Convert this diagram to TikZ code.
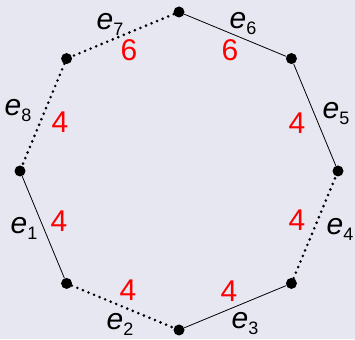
\documentclass[tikz,border=0pt]{standalone}
\usepackage{fontspec}
\setmainfont{Liberation Sans}
\usepackage{xcolor}
\usetikzlibrary{positioning}
\definecolor{bgcol}{RGB}{231,231,242}
\newcommand{\elab}[1]{{\itshape e}\raisebox{-6pt}{\fontsize{18}{18}\selectfont #1}}

\begin{document}
\begin{tikzpicture}[
    x=1pt, y=1pt,
    vert/.style={circle, fill=black, minimum size=11pt, inner sep=0pt},
    full/.style={draw=black, line width=0.8pt},
    dots/.style={draw=black, line width=2.9pt, line cap=round, dash pattern=on 0pt off 6pt},
    elabel/.style={inner sep=0pt, font=\fontsize{30}{30}\selectfont},
    wlabel/.style={inner sep=0pt, text=red, font=\fontsize{30}{30}\selectfont}
]
    \fill[bgcol] (0,0) rectangle (355,339);
    \useasboundingbox (0,0) rectangle (355,339);

    \begin{scope}[shift={(179,168)}]
    % corners of the octagon
    \node[vert] (a) at (180:159) {};
    \node[vert] (b) at (225:159) {};
    \node[vert] (c) at (270:159) {};
    \node[vert] (d) at (315:159) {};
    \node[vert] (e) at (0:159) {};
    \node[vert] (f) at (45:159) {};
    \node[vert] (g) at (90:159) {};
    \node[vert] (h) at (135:159) {};

    % edges
    \draw[full] (a) -- (b);
    \draw[dots] (b) -- (c);
    \draw[full] (c) -- (d);
    \draw[dots] (d) -- (e);
    \draw[full] (e) -- (f);
    \draw[full] (f) -- (g);
    \draw[dots] (g) -- (h);
    \draw[dots] (h) -- (a);

    % edge names
    \node[elabel] (n1) at (-155,-57) {\elab{1}};
    \node[elabel] (n2) at (-59,-153) {\elab{2}};
    \node[elabel] (n3) at (66,-153) {\elab{3}};
    \node[elabel] (n4) at (161,-58) {\elab{4}};
    \node[elabel] (n5) at (157,57) {\elab{5}};
    \node[elabel] (n6) at (64,147) {\elab{6}};
    \node[elabel] (n7) at (-69,147) {\elab{7}};
    \node[elabel] (n8) at (-161,60) {\elab{8}};

    % weights
    \node[wlabel] (w1) at (-120,-50) {4};
    \node[wlabel] (w2) at (-51,-119) {4};
    \node[wlabel] (w3) at (50,-120) {4};
    \node[wlabel] (w4) at (118,-49) {4};
    \node[wlabel] (w5) at (118,48) {4};
    \node[wlabel] (w6) at (51,121) {6};
    \node[wlabel] (w7) at (-50,121) {6};
    \node[wlabel] (w8) at (-119,49) {4};
    \end{scope}
\end{tikzpicture}
\end{document}
